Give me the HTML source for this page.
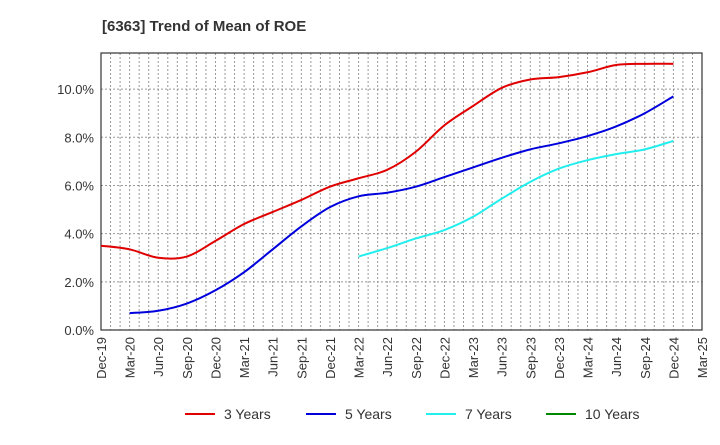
<!DOCTYPE html>
<html><head><meta charset="utf-8"><style>
body{margin:0;background:#fff;font-family:"Liberation Sans",Arial,sans-serif}
</style></head><body>
<svg id="c" width="720" height="440" xmlns="http://www.w3.org/2000/svg" font-family="Liberation Sans, Arial, sans-serif">
<text x="102" y="31" font-size="15" font-weight="bold" fill="#333">[6363]  Trend of Mean of ROE</text>
<g id="grid"></g><g id="axes"></g><g id="series"></g><g id="legend"></g>
</svg>
<script>
const xLabels=["Dec-19","Mar-20","Jun-20","Sep-20","Dec-20","Mar-21","Jun-21","Sep-21","Dec-21","Mar-22","Jun-22","Sep-22","Dec-22","Mar-23","Jun-23","Sep-23","Dec-23","Mar-24","Jun-24","Sep-24","Dec-24","Mar-25"];
const yTicks=[0,2,4,6,8,10];
const yTickLabels=["0.0%","2.0%","4.0%","6.0%","8.0%","10.0%"];
const s3y=[3.5,3.35,3.0,3.05,3.7,4.4,4.9,5.4,5.95,6.3,6.65,7.4,8.5,9.3,10.05,10.4,10.5,10.7,11.0,11.05,11.05];
const s5y=[null,0.7,0.8,1.1,1.65,2.4,3.35,4.3,5.1,5.55,5.7,5.95,6.35,6.75,7.15,7.5,7.75,8.05,8.45,9.0,9.7];
const s7y=[null,null,null,null,null,null,null,null,null,3.05,3.4,3.8,4.15,4.7,5.45,6.15,6.7,7.05,7.3,7.5,7.85];
const s10y=[];
const seriesNames=["3 Years","5 Years","7 Years","10 Years"];
const colors=["#e00000","#0000dd","#22eeee","#008800"];
const L=101,R=702,T=53,B=330,yMax=11.5;
const NS="http://www.w3.org/2000/svg";
const xq=i=>L+(R-L)*i*3/63;
const xm=m=>L+(R-L)*m/63;
const y=v=>B-(B-T)*v/yMax;
function mk(t,a,p){const e=document.createElementNS(NS,t);for(const k in a)e.setAttribute(k,a[k]);p.appendChild(e);return e;}
const g=document.getElementById('grid'),ax=document.getElementById('axes'),sg=document.getElementById('series'),lg=document.getElementById('legend');
for(let m=1;m<63;m++){const l=mk('line',{x1:xm(m),x2:xm(m),y1:T,y2:B,stroke:'#999','stroke-width':1,'stroke-dasharray':'2,2'},g);
}
yTicks.forEach((v,i)=>{if(v>0){const l=mk('line',{x1:L,x2:R,y1:y(v),y2:y(v),stroke:'#999','stroke-width':1,'stroke-dasharray':'2,2'},g);
}
const t=mk('text',{x:L-7,y:y(v)+5,'text-anchor':'end','font-size':13,fill:'#333'},ax);t.textContent=yTickLabels[i];
});
const fr=mk('rect',{x:L,y:T,width:R-L,height:B-T,fill:'none',stroke:'#333','stroke-width':1.2},ax);

xLabels.forEach((s,i)=>{const x=xq(i);const t=mk('text',{x:0,y:0,'text-anchor':'end','font-size':13,fill:'#333',transform:`translate(${x+5},${B+7}) rotate(-90)`},ax);t.textContent=s;
});
function path(pts){if(pts.length<2)return '';let d=`M${pts[0][0]},${pts[0][1]}`;for(let i=0;i<pts.length-1;i++){const p0=pts[i-1]||pts[i],p1=pts[i],p2=pts[i+1],p3=pts[i+2]||p2;
d+=` C${p1[0]+(p2[0]-p0[0])/6},${p1[1]+(p2[1]-p0[1])/6} ${p2[0]-(p3[0]-p1[0])/6},${p2[1]-(p3[1]-p1[1])/6} ${p2[0]},${p2[1]}`;}return d;}
[s3y,s5y,s7y,s10y].forEach((s,k)=>{const pts=[];s.forEach((v,i)=>{if(v!=null)pts.push([xq(i),y(v)]);});
if(pts.length>1){const p=mk('path',{d:path(pts),fill:'none',stroke:colors[k],'stroke-width':2},sg);
}});
const lx=[185,306,426,546];
seriesNames.forEach((n,k)=>{const e=mk('g',{},lg);
mk('line',{x1:lx[k],x2:lx[k]+30,y1:414,y2:414,stroke:colors[k],'stroke-width':2},e);
const t=mk('text',{x:lx[k]+39,y:419,'font-size':14,fill:'#333'},e);t.textContent=n;});
</script>
</body></html>
